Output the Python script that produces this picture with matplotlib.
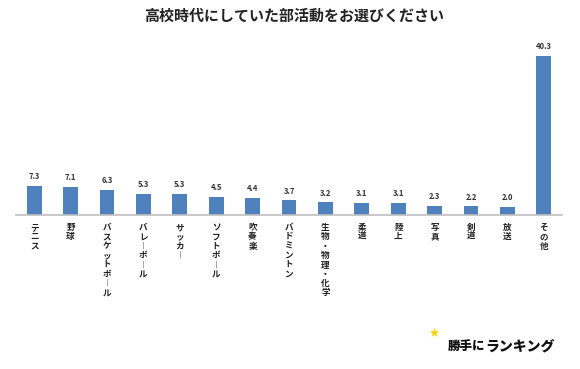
import matplotlib
matplotlib.use('Agg')
import matplotlib.pyplot as plt

plt.rcParams['font.family'] = ['Noto Sans CJK JP', 'DejaVu Sans']

categories = ['テニス', '野球', 'バスケットボール', 'バレーボール', 'サッカー', 'ソフトボール',
              '吹奏楽', 'バドミントン', '生物・物理・化学', '柔道', '陸上', '写真', '剣道', '放送', 'その他']
values = [7.3, 7.1, 6.3, 5.3, 5.3, 4.5, 4.4, 3.7, 3.2, 3.1, 3.1, 2.3, 2.2, 2.0, 40.3]

fig = plt.figure(figsize=(5.8, 3.69), dpi=100)
ax = fig.add_axes([16 / 580, 1 - 215 / 369, 546 / 580, 175 / 369])

x = list(range(len(categories)))
ax.bar(x, values, width=0.41, color='#4F81BD', zorder=2)
ax.set_xlim(-0.5, len(categories) - 0.5)
ax.set_ylim(0, 44.3)

for i, v in zip(x, values):
    ax.text(i, v + 1.2, f'{v:.1f}', ha='center', va='bottom', fontsize=5.5,
            fontweight='bold', color='#333333')

# vertical (tategaki) category labels, long vowel mark turned upright
for i, name in zip(x, categories):
    vert = '\n'.join(c if c != 'ー' else '︱' for c in name)
    ax.text(i, -2.0, vert, ha='center', va='top', fontsize=6.2, fontweight='bold',
            linespacing=1.05, color='#222222')

for s in ['top', 'right', 'left']:
    ax.spines[s].set_visible(False)
ax.spines['bottom'].set_color('#BFBFBF')
ax.spines['bottom'].set_linewidth(1.2)
ax.set_xticks([])
ax.set_yticks([])

fig.text(294 / 580, 1 - 16 / 369, '高校時代にしていた部活動をお選びください', ha='center', va='center',
         fontsize=10.8, fontweight='bold', color='#222222')

# site logo text
fig.text(448 / 580, 1 - 346 / 369, '勝手に', ha='left', va='center', fontsize=9,
         fontweight='heavy', color='#111111', style='italic')
fig.text(485 / 580, 1 - 346 / 369, 'ランキング', ha='left', va='center', fontsize=10,
         fontweight='heavy', color='#111111', style='italic')
fig.text(434 / 580, 1 - 333 / 369, '★', ha='center', va='center', fontsize=9,
         color='#F5D300', family=['DejaVu Sans'])

fig.savefig('out.png', dpi=100, facecolor='white')
